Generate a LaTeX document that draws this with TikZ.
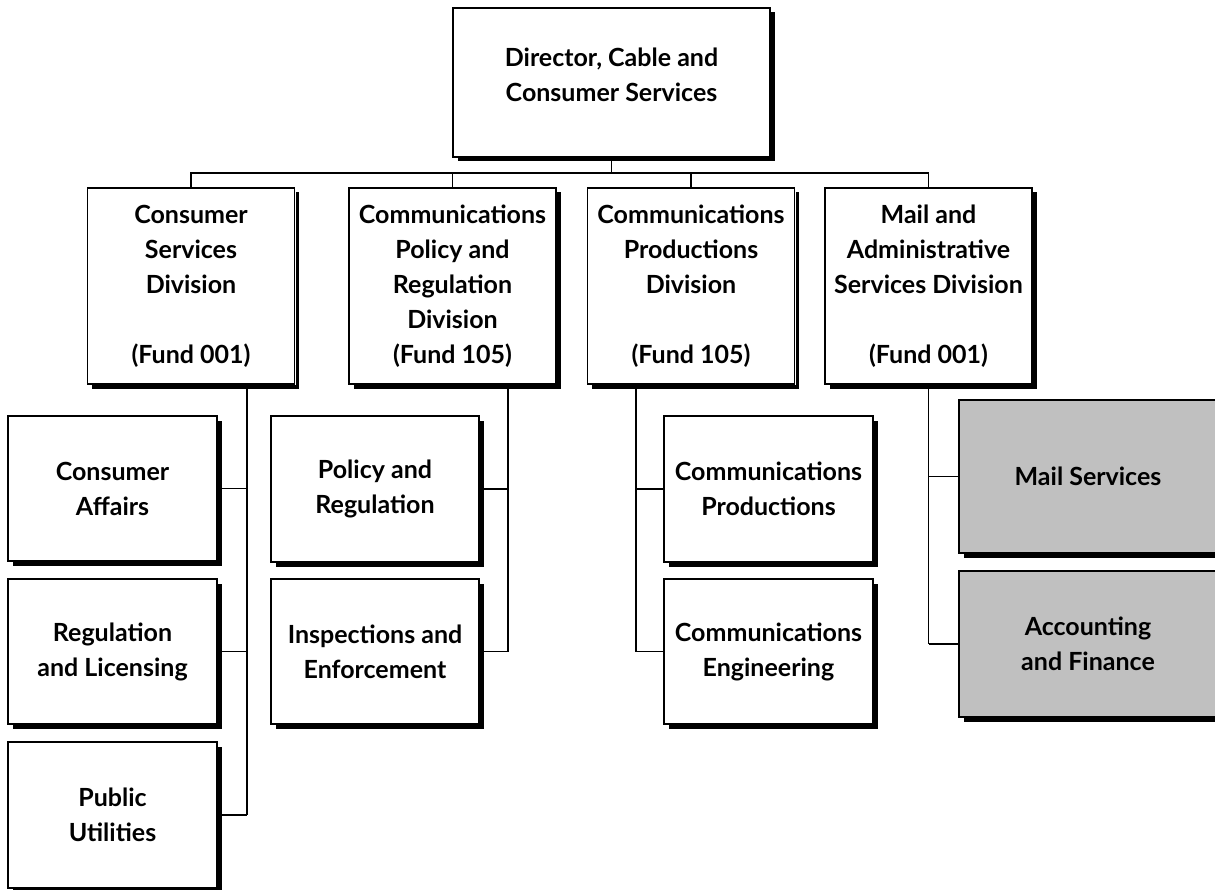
\documentclass[tikz,border=0pt]{standalone}
\usepackage{fontspec}
\setmainfont{Lato}
\usetikzlibrary{shadows}
\definecolor{boxgray}{RGB}{192,192,192}
\tikzset{
  orgbox/.style={draw=black, line width=1.2pt, fill=white,
    drop shadow={shadow xshift=4.5pt, shadow yshift=-4.5pt, fill=black, opacity=1},
    preaction={draw=white, line width=2.4pt},
    align=center, inner sep=0pt,
    font=\fontsize{25}{35}\selectfont\bfseries},
  graybox/.style={orgbox, fill=boxgray},
  link/.style={draw=black, line width=1.2pt}
}
\begin{document}
\begin{tikzpicture}[x=1pt, y=-1pt]
\useasboundingbox (0,0) rectangle (1215,890);
\clip (0,0) rectangle (1215,890);
% top
\node[orgbox, minimum width=317pt, minimum height=149pt] (dir) at (611.5,82.5)
  {Director, Cable and\\Consumer Services\\[-20pt]};
% level 2
\node[orgbox, minimum width=207pt, minimum height=196pt] (cs) at (191,286)
  {Consumer\\Services\\Division\\[35pt](Fund 001)};
\node[orgbox, minimum width=207pt, minimum height=196pt] (cp) at (452.5,286)
  {Communications\\Policy and\\Regulation\\Division\\(Fund 105)};
\node[orgbox, minimum width=207pt, minimum height=196pt] (pr) at (691,286)
  {Communications\\Productions\\Division\\[35pt](Fund 105)};
\node[orgbox, minimum width=207pt, minimum height=196pt] (ma) at (928.5,286)
  {Mail and\\Administrative\\Services Division\\[35pt](Fund 001)};
% column 1
\node[orgbox, minimum width=209pt, minimum height=145pt] (ca) at (112.5,488.5)
  {Consumer\\Affairs};
\node[orgbox, minimum width=209pt, minimum height=145pt] (rl) at (112.5,651.5)
  {Regulation\\and Licensing};
\node[orgbox, minimum width=209pt, minimum height=146pt] (pu) at (112.5,815)
  {Public\\Utilities};
% column 2
\node[orgbox, minimum width=208pt, minimum height=146pt] (po) at (375,489)
  {Policy and\\Regulation};
\node[orgbox, minimum width=208pt, minimum height=145pt] (ie) at (375,651.5)
  {Inspections and\\Enforcement};
% column 3
\node[orgbox, minimum width=209pt, minimum height=146pt] (cpd) at (768.5,489)
  {Communications\\Productions};
\node[orgbox, minimum width=209pt, minimum height=145pt] (ce) at (768.5,651.5)
  {Communications\\Engineering};
% column 4
\node[graybox, minimum width=258pt, minimum height=153pt] (ms) at (1088,476.5)
  {Mail Services};
\node[graybox, minimum width=258pt, minimum height=146pt] (af) at (1088,644)
  {Accounting\\and Finance};
% bus
\coordinate (bus) at (611.5,173);
\draw[link] (dir.south) -- (bus);
\draw[link] (cs.north) -- (cs.north |- bus) -- (ma.north |- bus) -- (ma.north);
\draw[link] (cp.north) -- (cp.north |- bus);
\draw[link] (pr.north) -- (pr.north |- bus);
% column 1 spine
\coordinate (v1) at (247,384);
\draw[link] (v1) -- (v1 |- pu.east);
\draw[link] (ca.east) -- (ca.east -| v1);
\draw[link] (rl.east) -- (rl.east -| v1);
\draw[link] (pu.east) -- (pu.east -| v1);
% column 2 spine
\coordinate (v2) at (508,384);
\draw[link] (v2) -- (v2 |- ie.east);
\draw[link] (po.east) -- (po.east -| v2);
\draw[link] (ie.east) -- (ie.east -| v2);
% column 3 spine
\coordinate (v3) at (636,384);
\draw[link] (v3) -- (v3 |- ce.west);
\draw[link] (cpd.west) -- (cpd.west -| v3);
\draw[link] (ce.west) -- (ce.west -| v3);
% column 4 spine
\draw[link] (ma.south) -- (ma.south |- af.west);
\draw[link] (ms.west) -- (ms.west -| ma.south);
\draw[link] (af.west) -- (af.west -| ma.south);
\end{tikzpicture}
\end{document}
